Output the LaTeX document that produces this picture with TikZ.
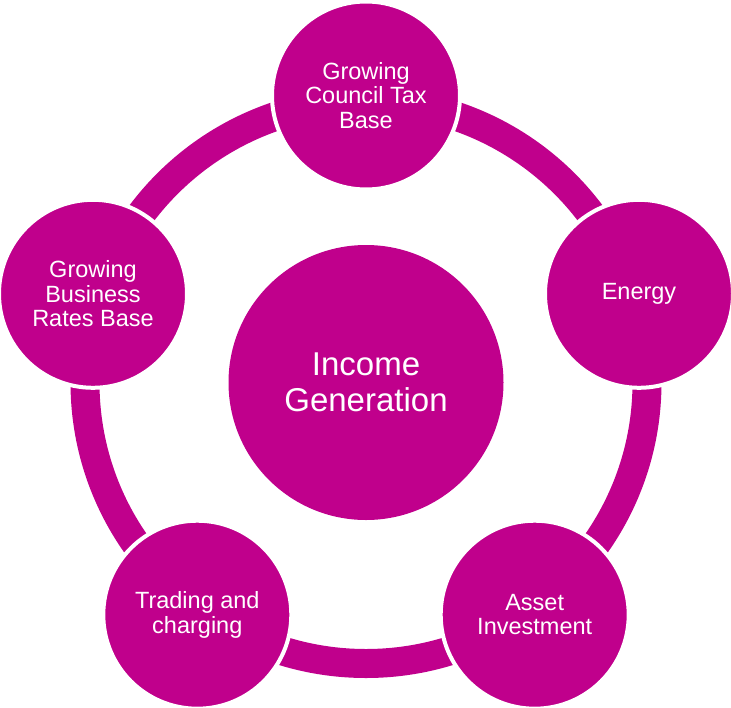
\documentclass[tikz,border=0pt]{standalone}
\usepackage{fontspec}
\setmainfont{Liberation Sans}
\definecolor{mag}{RGB}{192,0,140}
\begin{document}
\begin{tikzpicture}[x=1pt,y=-1pt,
  ring/.style={draw=mag, line width=29pt},
  sat/.style={circle, fill=mag, draw=white, line width=4pt, minimum size=188pt, inner sep=0pt,
    text=white, align=center, font=\fontsize{23.5}{24.5}\selectfont},
  hub/.style={circle, fill=mag, minimum size=275pt, inner sep=0pt,
    text=white, align=center, font=\fontsize{33}{36}\selectfont}]
\useasboundingbox (0,0) rectangle (731,707);
\coordinate (c) at (366,382.5);
\draw[ring] (c) circle [radius=281];
\node[hub] (inc) at (c) {Income\\Generation};
\node[sat] (tax) at (366,95.5) {Growing\\Council Tax\\Base};
\node[sat] (energy) at (639,293.8) {Energy};
\node[sat] (asset) at (534.7,614.7) {Asset\\Investment};
\node[sat] (trade) at (197.3,614.7) {Trading and\\charging};
\node[sat] (bus) at (93,293.8) {Growing\\Business\\Rates Base};
\end{tikzpicture}
\end{document}
